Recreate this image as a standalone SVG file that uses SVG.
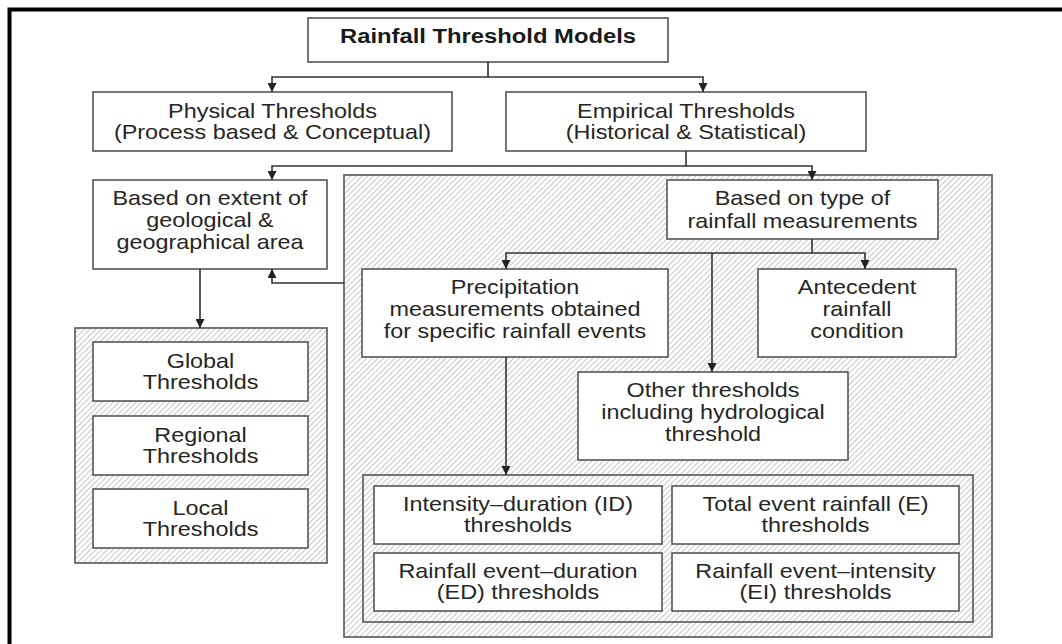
<svg xmlns="http://www.w3.org/2000/svg" width="1062" height="644" viewBox="0 0 1062 644">
<defs>
<pattern id="hatch" width="4" height="4" patternUnits="userSpaceOnUse" patternTransform="rotate(45)">
<rect width="4" height="4" fill="#ffffff"/>
<line x1="0.5" y1="0" x2="0.5" y2="4" stroke="#c6c6c6" stroke-width="1"/>
</pattern>
<marker id="arr" viewBox="0 0 10 10" refX="10" refY="5" markerWidth="10" markerHeight="9" markerUnits="userSpaceOnUse" orient="auto">
<path d="M0,0 L10,5 L0,10 z" fill="#222"/>
</marker>
<style>
.box{fill:#ffffff;stroke:#555;stroke-width:1.6}
.hbox{fill:url(#hatch);stroke:#555;stroke-width:1.6}
.t{font-family:"Liberation Sans",Arial,sans-serif;font-size:20px;fill:#262626;text-anchor:middle}
.tb{font-weight:bold;fill:#1a1a1a}
.c{fill:none;stroke:#333;stroke-width:1.6}
</style>
</defs>
<rect width="1062" height="644" fill="#ffffff"/>
<path d="M9.5 644 V9.5 H1062" fill="none" stroke="#000" stroke-width="4"/>

<g id="title">
<rect class="box" x="308" y="18" width="360" height="44"/>
<text class="t tb" transform="translate(488 0) scale(1.19 1)"><tspan x="0" y="43">Rainfall Threshold Models</tspan></text>
</g>
<g id="physical">
<rect class="box" x="93" y="92" width="359" height="59"/>
<text class="t" transform="translate(272.5 0) scale(1.17 1)"><tspan x="0" y="118">Physical Thresholds</tspan><tspan x="0" y="139">(Process based &amp; Conceptual)</tspan></text>
</g>
<g id="empirical">
<rect class="box" x="506" y="92" width="360" height="59"/>
<text class="t" transform="translate(686 0) scale(1.17 1)"><tspan x="0" y="118">Empirical Thresholds</tspan><tspan x="0" y="139">(Historical &amp; Statistical)</tspan></text>
</g>
<g id="extent">
<rect class="box" x="93" y="180" width="234" height="89"/>
<text class="t" transform="translate(210 0) scale(1.17 1)"><tspan x="0" y="205">Based on extent of</tspan><tspan x="0" y="227">geological &amp;</tspan><tspan x="0" y="249">geographical area</tspan></text>
</g>
<g id="extent-group">
<rect class="hbox" x="75" y="328" width="252" height="235"/>
</g>
<g id="global">
<rect class="box" x="93" y="342" width="215" height="59"/>
<text class="t" transform="translate(200.5 0) scale(1.17 1)"><tspan x="0" y="368">Global</tspan><tspan x="0" y="389">Thresholds</tspan></text>
</g>
<g id="regional">
<rect class="box" x="93" y="416" width="215" height="59"/>
<text class="t" transform="translate(200.5 0) scale(1.17 1)"><tspan x="0" y="442">Regional</tspan><tspan x="0" y="463">Thresholds</tspan></text>
</g>
<g id="local">
<rect class="box" x="93" y="489" width="215" height="59"/>
<text class="t" transform="translate(200.5 0) scale(1.17 1)"><tspan x="0" y="515">Local</tspan><tspan x="0" y="536">Thresholds</tspan></text>
</g>
<g id="type-group">
<rect class="hbox" x="344" y="175" width="648" height="462"/>
</g>
<g id="type">
<rect class="box" x="667" y="180" width="271" height="59"/>
<text class="t" transform="translate(802.5 0) scale(1.17 1)"><tspan x="0" y="205">Based on type of</tspan><tspan x="0" y="228">rainfall measurements</tspan></text>
</g>
<g id="precipitation">
<rect class="box" x="362" y="269" width="306" height="88"/>
<text class="t" transform="translate(515 0) scale(1.17 1)"><tspan x="0" y="294">Precipitation</tspan><tspan x="0" y="316">measurements obtained</tspan><tspan x="0" y="338">for specific rainfall events</tspan></text>
</g>
<g id="antecedent">
<rect class="box" x="758" y="269" width="198" height="88"/>
<text class="t" transform="translate(857 0) scale(1.17 1)"><tspan x="0" y="294">Antecedent</tspan><tspan x="0" y="316">rainfall</tspan><tspan x="0" y="338">condition</tspan></text>
</g>
<g id="other">
<rect class="box" x="578" y="372" width="270" height="88"/>
<text class="t" transform="translate(713 0) scale(1.17 1)"><tspan x="0" y="397">Other thresholds</tspan><tspan x="0" y="419">including hydrological</tspan><tspan x="0" y="441">threshold</tspan></text>
</g>
<g id="event-group">
<rect class="hbox" x="363" y="475" width="610" height="147"/>
</g>
<g id="id">
<rect class="box" x="374" y="486" width="288" height="58"/>
<text class="t" transform="translate(518 0) scale(1.17 1)"><tspan x="0" y="511">Intensity–duration (ID)</tspan><tspan x="0" y="532">thresholds</tspan></text>
</g>
<g id="e">
<rect class="box" x="672" y="486" width="287" height="58"/>
<text class="t" transform="translate(815.5 0) scale(1.17 1)"><tspan x="0" y="511">Total event rainfall (E)</tspan><tspan x="0" y="532">thresholds</tspan></text>
</g>
<g id="ed">
<rect class="box" x="374" y="553" width="288" height="58"/>
<text class="t" transform="translate(518 0) scale(1.17 1)"><tspan x="0" y="578">Rainfall event–duration</tspan><tspan x="0" y="599">(ED) thresholds</tspan></text>
</g>
<g id="ei">
<rect class="box" x="672" y="553" width="287" height="58"/>
<text class="t" transform="translate(815.5 0) scale(1.17 1)"><tspan x="0" y="578">Rainfall event–intensity</tspan><tspan x="0" y="599">(EI) thresholds</tspan></text>
</g>

<g id="connectors">
<path class="c" d="M488 62 V77 H272 V92" marker-end="url(#arr)"/>
<path class="c" d="M488 77 H703 V92" marker-end="url(#arr)"/>
<path class="c" d="M686 151 V166 H272 V180" marker-end="url(#arr)"/>
<path class="c" d="M686 166 H812 V180" marker-end="url(#arr)"/>
<path class="c" d="M812 239 V253 H506 V269" marker-end="url(#arr)"/>
<path class="c" d="M812 253 H865 V269" marker-end="url(#arr)"/>
<path class="c" d="M712 253 V372" marker-end="url(#arr)"/>
<path class="c" d="M506 357 V475" marker-end="url(#arr)"/>
<path class="c" d="M344 283 H272 V269" marker-end="url(#arr)"/>
<path class="c" d="M200 269 V328" marker-end="url(#arr)"/>
</g>
</svg>
